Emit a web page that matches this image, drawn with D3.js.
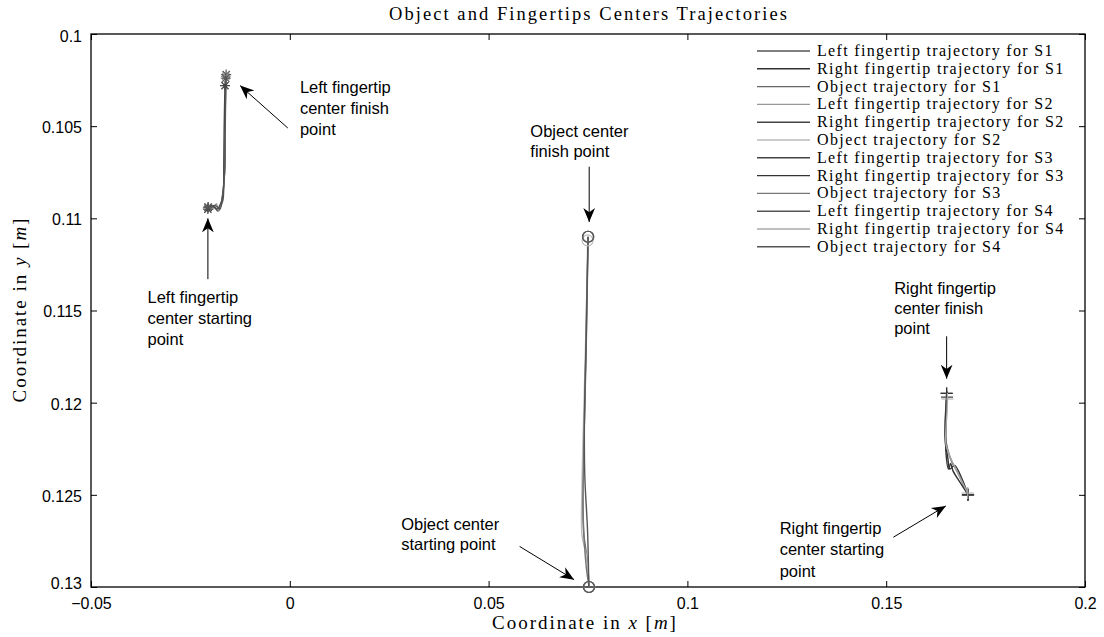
<!DOCTYPE html>
<html><head><meta charset="utf-8">
<script src="https://cdn.jsdelivr.net/npm/d3@7"></script>
<style>body{margin:0;background:#fff}svg{display:block}</style>
</head><body>
<svg id="c" width="1104" height="637"></svg>
<script>
const xTicks = [-0.05, 0, 0.05, 0.1, 0.15, 0.2];
const xTickLabels = ["\u22120.05", "0", "0.05", "0.1", "0.15", "0.2"];
const yTicks = [0.1, 0.105, 0.11, 0.115, 0.12, 0.125, 0.13];
const yTickLabels = ["0.1", "0.105", "0.11", "0.115", "0.12", "0.125", "0.13"];

const seriesNames = [
  "Left fingertip trajectory for S1", "Right fingertip trajectory for S1", "Object trajectory for S1",
  "Left fingertip trajectory for S2", "Right fingertip trajectory for S2", "Object trajectory for S2",
  "Left fingertip trajectory for S3", "Right fingertip trajectory for S3", "Object trajectory for S3",
  "Left fingertip trajectory for S4", "Right fingertip trajectory for S4", "Object trajectory for S4"
];
const seriesKinds = ["left","right","object","left","right","object","left","right","object","left","right","object"];

const leftS1 = [[-0.0206,0.1094],[-0.0190,0.1094],[-0.0181,0.1096],[-0.0173,0.1093],[-0.0168,0.1090],[-0.0166,0.1082],[-0.0163,0.1071],[-0.0163,0.1047],[-0.0160,0.1022]];
const rightS1 = [[0.1706,0.1250],[0.1690,0.1241],[0.1672,0.1234],[0.1660,0.1236],[0.1655,0.1230],[0.1648,0.1220],[0.1650,0.1205],[0.1652,0.1195]];
const objS1 = [[0.0753,0.1300],[0.0748,0.1285],[0.0739,0.1270],[0.0737,0.1240],[0.0741,0.1210],[0.0745,0.1175],[0.0748,0.1140],[0.0750,0.1110]];
const leftS2 = [[-0.0205,0.1094],[-0.0192,0.1095],[-0.0185,0.1092],[-0.0178,0.1096],[-0.0170,0.1089],[-0.0165,0.1078],[-0.0164,0.1060],[-0.0162,0.1040],[-0.0161,0.1023]];
const rightS2 = [[0.1705,0.1250],[0.1680,0.1238],[0.1665,0.1232],[0.1654,0.1225],[0.1649,0.1218],[0.1651,0.1200],[0.1653,0.1197]];
const objS2 = [[0.0752,0.1300],[0.0746,0.1283],[0.0735,0.1272],[0.0735,0.1245],[0.0740,0.1200],[0.0746,0.1150],[0.0749,0.1112]];
const leftS3 = [[-0.0206,0.1095],[-0.0195,0.1093],[-0.0183,0.1095],[-0.0172,0.1091],[-0.0167,0.1085],[-0.0166,0.1070],[-0.0165,0.1050],[-0.0163,0.1028]];
const rightS3 = [[0.1706,0.1250],[0.1685,0.1243],[0.1668,0.1237],[0.1662,0.1233],[0.1657,0.1236],[0.1650,0.1226],[0.1651,0.1210],[0.1652,0.1195]];
const objS3 = [[0.0753,0.1300],[0.0746,0.1290],[0.0738,0.1262],[0.0739,0.1230],[0.0743,0.1190],[0.0747,0.1140],[0.0751,0.1110]];
const leftS4 = [[-0.0205,0.1094],[-0.0188,0.1093],[-0.0176,0.1095],[-0.0169,0.1087],[-0.0164,0.1075],[-0.0163,0.1060],[-0.0162,0.1045],[-0.0161,0.1024]];
const rightS4 = [[0.1705,0.1249],[0.1675,0.1236],[0.1658,0.1228],[0.1650,0.1222],[0.1653,0.1205],[0.1654,0.1198]];
const objS4 = [[0.0752,0.1300],[0.0749,0.1270],[0.0742,0.1240],[0.0741,0.1210],[0.0746,0.1160],[0.0750,0.1110]];
const seriesData = [leftS1,rightS1,objS1,leftS2,rightS2,objS2,leftS3,rightS3,objS3,leftS4,rightS4,objS4];
const seriesColors = ["#555","#333","#666","#999","#444","#bbb","#444","#333","#777","#555","#aaa","#555"];

// annotations: text lines, text anchor (data), arrow tail & head (data), line gap
const annotations = [
  {lines:["Left fingertip","center finish","point"], tx:0.00255, ty:0.1032, ax:[-0.0005,0.1051], ah:[-0.0125,0.1028], gap:21},
  {lines:["Left fingertip","center starting","point"], tx:-0.0358, ty:0.1146, ax:[-0.0206,0.1133], ah:[-0.0206,0.1100], gap:21},
  {lines:["Object center","finish point"], tx:0.0605, ty:0.1056, ax:[0.0753,0.1072], ah:[0.0753,0.1102], gap:20},
  {lines:["Object center","starting point"], tx:0.0280, ty:0.1269, ax:[0.0578,0.1278], ah:[0.0715,0.1296], gap:20},
  {lines:["Right fingertip","center finish","point"], tx:0.1520, ty:0.1141, ax:[0.1652,0.1164], ah:[0.1652,0.1187], gap:20},
  {lines:["Right fingertip","center starting","point"], tx:0.1232, ty:0.1271, ax:[0.1518,0.1273], ah:[0.1650,0.1256], gap:21.5}
];

const svg = d3.select("#c");
const M = {l:91, r:1085, t:34, b:587};
const x = d3.scaleLinear().domain([-0.05,0.2]).range([M.l,M.r]);
const y = d3.scaleLinear().domain([0.1,0.13]).range([M.t,M.b]);
const serif = "'Liberation Serif','DejaVu Serif',serif";
const sans = "'Liberation Sans',Arial,sans-serif";
function stretch(sel, k){
  sel.each(function(){ const w=this.getComputedTextLength(); d3.select(this).attr("textLength",w*k).attr("lengthAdjust","spacing"); });
}

svg.append("defs").append("marker").attr("id","ah").attr("viewBox","0 0 10 10")
  .attr("refX",10).attr("refY",5).attr("markerWidth",14).attr("markerHeight",14)
  .attr("markerUnits","userSpaceOnUse").attr("orient","auto")
  .append("path").attr("d","M0,0.8 L10,5 L0,9.2 L3,5 Z").attr("fill","#000");

const tl = 6;
const gx = svg.append("g").attr("transform",`translate(0,${M.b})`)
  .call(d3.axisBottom(x).tickValues(xTicks).tickSize(-tl).tickFormat((d,i)=>xTickLabels[i]).tickPadding(11));
const gxt = svg.append("g").attr("transform",`translate(0,${M.t})`)
  .call(d3.axisTop(x).tickValues(xTicks).tickSize(-tl).tickFormat(""));
const gy = svg.append("g").attr("transform",`translate(${M.l},0)`)
  .call(d3.axisLeft(y).tickValues(yTicks).tickSize(-tl).tickFormat((d,i)=>yTickLabels[i]).tickPadding(9));
const gyr = svg.append("g").attr("transform",`translate(${M.r},0)`)
  .call(d3.axisRight(y).tickValues(yTicks).tickSize(-tl).tickFormat(""));
[gx,gxt,gy,gyr].forEach(g=>{g.select(".domain").remove();
  g.selectAll("line").attr("stroke","#000").attr("stroke-width",1);
  g.selectAll("text").attr("font-family",sans).attr("font-size",16).attr("fill","#000");});
gy.selectAll(".tick text").attr("dy","0.4em");
gy.selectAll(".tick").filter(d=>d===0.13).select("text").attr("dy","0.1em");
gy.selectAll(".tick").filter(d=>d===0.1).select("text").attr("dy","0.45em");

svg.append("rect").attr("x",M.l).attr("y",M.t).attr("width",M.r-M.l).attr("height",M.b-M.t)
  .attr("fill","none").attr("stroke","#000").attr("stroke-width",1.3);

const line = d3.line().x(d=>x(d[0])).y(d=>y(d[1])).curve(d3.curveCatmullRom.alpha(0.5));
const plot = svg.append("g");
seriesData.forEach((s,i)=>{
  plot.append("path").attr("d",line(s)).attr("fill","none")
    .attr("stroke",seriesColors[i]).attr("stroke-width",1.4);
});
function marker(kind, px, py, col){
  const g = plot.append("g").attr("transform",`translate(${px},${py})`).attr("stroke",col).attr("fill","none").attr("stroke-width",1.2);
  if(kind==="object"){ g.append("circle").attr("r",5.5); }
  else if(kind==="right"){ g.append("path").attr("d","M-6,0H6M0,-6V6"); }
  else { g.append("path").attr("d","M-5,0H5M0,-5V5M-3.6,-3.6L3.6,3.6M-3.6,3.6L3.6,-3.6"); }
}
seriesData.forEach((s,i)=>{
  const c = seriesColors[i];
  marker(seriesKinds[i], x(s[0][0]), y(s[0][1]), c);
  marker(seriesKinds[i], x(s[s.length-1][0]), y(s[s.length-1][1]), c);
});

annotations.forEach(a=>{
  svg.append("line").attr("x1",x(a.ax[0])).attr("y1",y(a.ax[1])).attr("x2",x(a.ah[0])).attr("y2",y(a.ah[1]))
    .attr("stroke","#000").attr("stroke-width",1).attr("marker-end","url(#ah)");
  const t = svg.append("text").attr("x",x(a.tx)).attr("y",y(a.ty)).attr("font-family",sans).attr("font-size",16.5).attr("fill","#000");
  a.lines.forEach((L,j)=>t.append("tspan").attr("x",x(a.tx)).attr("dy",j?a.gap:0).text(L));
});

const lg = svg.append("g");
seriesNames.forEach((n,i)=>{
  const yy = 51 + i*17.8;
  lg.append("line").attr("x1",757).attr("x2",810).attr("y1",yy).attr("y2",yy).attr("stroke",seriesColors[i]).attr("stroke-width",1.4);
  lg.append("text").attr("class","lgt").attr("x",817).attr("y",yy+5).attr("font-family",serif).attr("font-size",16).attr("fill","#000").text(n);
});
stretch(lg.selectAll(".lgt"), 1.21);

const tt = svg.append("text").attr("x",(M.l+M.r)/2).attr("y",20).attr("text-anchor","middle")
  .attr("font-family",serif).attr("font-size",18.5).text("Object and Fingertips Centers Trajectories");
stretch(tt, 1.27);
const xl = svg.append("text").attr("x",584).attr("y",629).attr("text-anchor","middle")
  .attr("font-family",serif).attr("font-size",19);
xl.append("tspan").text("Coordinate in ");
xl.append("tspan").attr("font-style","italic").text("x");
xl.append("tspan").text(" [");
xl.append("tspan").attr("font-style","italic").text("m");
xl.append("tspan").text("]");
stretch(xl, 1.24);
const yl = svg.append("text").attr("transform",`translate(26,${(M.t+M.b)/2}) rotate(-90)`).attr("text-anchor","middle")
  .attr("font-family",serif).attr("font-size",19);
yl.append("tspan").text("Coordinate in ");
yl.append("tspan").attr("font-style","italic").text("y");
yl.append("tspan").text(" [");
yl.append("tspan").attr("font-style","italic").text("m");
yl.append("tspan").text("]");
stretch(yl, 1.24);
</script>
</body></html>
